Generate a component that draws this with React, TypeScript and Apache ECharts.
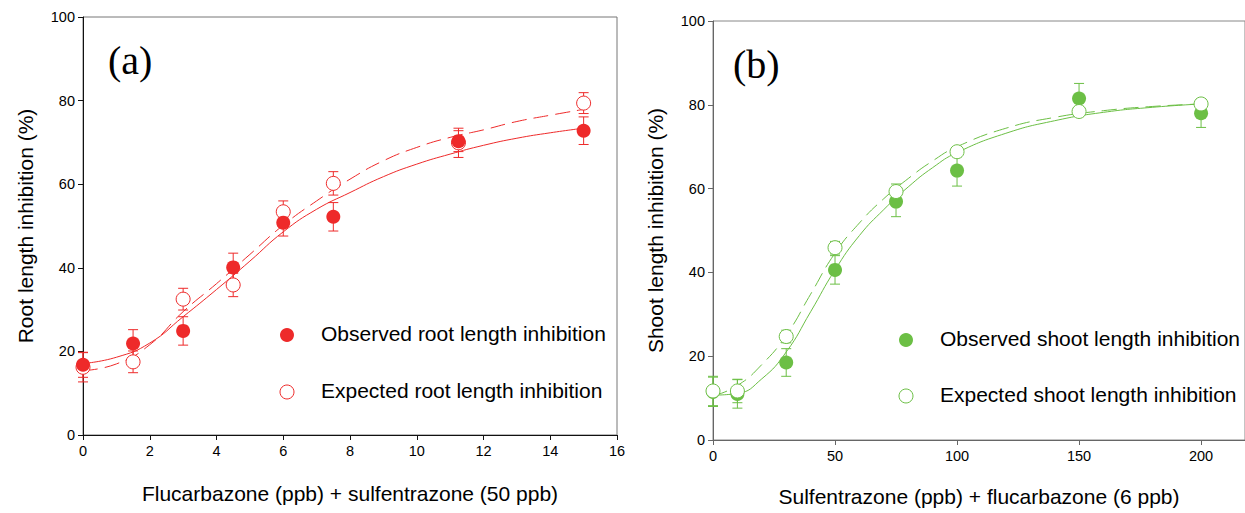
import React, { useEffect, useRef } from "react";
import * as echarts from "echarts";

// Panel (a): root length inhibition
const xA = [0, 1.5, 3, 4.5, 6, 7.5, 11.25, 15];
const obsA = [16.8, 21.9, 24.9, 40.1, 50.8, 52.2, 70.3, 72.8];
const obsAErr = [3.0, 3.3, 3.4, 3.4, 3.2, 3.4, 2.5, 3.3];
const expA = [16.2, 17.5, 32.5, 35.9, 53.4, 60.2, 69.9, 79.4];
const expAErr = [3.5, 2.6, 2.6, 2.8, 2.6, 2.8, 3.5, 2.5];
const fitXA = [0, 1, 2, 3, 4, 5, 6, 7, 8, 9, 10, 11, 12, 13, 14, 15];
const fitObsA = [17.1, 18.6, 22.0, 28.3, 34.8, 41.6, 48.6, 54.0, 58.0, 61.8, 64.8, 67.2, 69.3, 71.0, 72.3, 73.4];
const fitExpA = [15.4, 17.0, 21.6, 29.5, 36.2, 43.2, 50.2, 56.0, 61.2, 65.6, 68.8, 71.2, 73.0, 75.0, 76.5, 77.9];

// Panel (b): shoot length inhibition
const xB = [0, 10, 30, 50, 75, 100, 150, 200];
const obsB = [11.5, 11.0, 18.5, 40.6, 56.9, 64.3, 81.5, 78.0];
const obsBErr = [3.5, 3.4, 3.3, 3.4, 3.6, 3.7, 3.6, 3.4];
const expB = [11.7, 11.7, 24.7, 45.9, 59.3, 68.8, 78.4, 80.2];
const expBErr = [3.5, 2.8, 1.5, 1.5, 1.8, 1.2, 1.2, 0.5];
const fitXB = [0, 10, 20, 30, 40, 50, 60, 70, 80, 90, 100, 120, 140, 160, 180, 200];
const fitObsB = [10.7, 11.1, 14.6, 21.0, 30.6, 40.6, 48.8, 55.0, 60.4, 65.0, 68.6, 73.2, 76.2, 78.2, 79.4, 80.2];
const fitExpB = [10.5, 13.0, 18.0, 25.0, 34.8, 44.6, 51.8, 57.6, 62.4, 66.6, 70.0, 74.4, 77.0, 78.6, 79.6, 80.2];

const xTicksA = [0, 2, 4, 6, 8, 10, 12, 14, 16];
const xTicksB = [0, 50, 100, 150, 200];
const yTicks = [0, 20, 40, 60, 80, 100];

const RED = "#ee2a2a";
const GREEN = "#6cbf45";
const FONT = "Liberation Sans, Arial, sans-serif";

function zip(xs: number[], ys: number[], es?: number[]) {
  return xs.map((x, i) => (es ? [x, ys[i], es[i]] : [x, ys[i]]));
}

function errSeries(idx: number, xs: number[], ys: number[], es: number[], color: string, z: number) {
  return {
    type: "custom",
    xAxisIndex: idx,
    yAxisIndex: idx,
    z,
    encode: { x: 0, y: 1 },
    data: zip(xs, ys, es),
    renderItem: (params: any, api: any) => {
      const x = api.value(0);
      const y = api.value(1);
      const e = api.value(2);
      const top = api.coord([x, y + e]);
      const bot = api.coord([x, y - e]);
      const w = 5;
      const st = { stroke: color, lineWidth: 1 };
      return {
        type: "group",
        children: [
          { type: "line", shape: { x1: top[0], y1: top[1], x2: bot[0], y2: bot[1] }, style: st },
          { type: "line", shape: { x1: top[0] - w, y1: top[1], x2: top[0] + w, y2: top[1] }, style: st },
          { type: "line", shape: { x1: bot[0] - w, y1: bot[1], x2: bot[0] + w, y2: bot[1] }, style: st },
        ],
      };
    },
  };
}

function pointSeries(idx: number, xs: number[], ys: number[], color: string, filled: boolean, z: number) {
  return {
    type: "scatter",
    xAxisIndex: idx,
    yAxisIndex: idx,
    z,
    symbol: "circle",
    symbolSize: 14,
    data: zip(xs, ys),
    itemStyle: filled
      ? { color, borderColor: color, borderWidth: 0, opacity: 1 }
      : { color: "#ffffff", borderColor: color, borderWidth: 1, opacity: 1 },
  };
}

function curveSeries(idx: number, xs: number[], ys: number[], color: string, dashed: boolean) {
  return {
    type: "line",
    xAxisIndex: idx,
    yAxisIndex: idx,
    z: 1,
    showSymbol: false,
    smooth: 0.5,
    data: zip(xs, ys),
    lineStyle: { color, width: 1, type: dashed ? [15, 7] : "solid" },
  };
}

export default function App() {
  const ref = useRef<HTMLDivElement>(null);
  useEffect(() => {
    if (!ref.current) return;
    const chart = echarts.init(ref.current, undefined, { renderer: "svg" });
    const axisLabel = { color: "#000", fontFamily: FONT, fontSize: 14.5, margin: 8 };
    const nameStyle = { color: "#000", fontFamily: FONT, fontSize: 21 };
    const option: any = {
      animation: false,
      backgroundColor: "#ffffff",
      grid: [
        { left: 83, top: 17, width: 534, height: 418, show: true, borderColor: "#777", borderWidth: 1, backgroundColor: "transparent" },
        { left: 713, top: 21, width: 532, height: 419, show: true, borderColor: "#888", borderWidth: 1, backgroundColor: "transparent" },
      ],
      xAxis: [
        {
          gridIndex: 0, type: "value", min: 0, max: 16, interval: 2,
          name: "Flucarbazone (ppb) + sulfentrazone (50 ppb)", nameLocation: "middle", nameGap: 48, nameTextStyle: nameStyle,
          axisLine: { lineStyle: { color: "#111" } },
          axisTick: { length: 5, lineStyle: { color: "#111" }, customValues: xTicksA },
          axisLabel: { ...axisLabel, customValues: xTicksA },
          splitLine: { show: false },
        },
        {
          gridIndex: 1, type: "value", min: 0, max: 218, interval: 50,
          name: "Sulfentrazone (ppb) + flucarbazone (6 ppb)", nameLocation: "middle", nameGap: 46, nameTextStyle: nameStyle,
          axisLine: { lineStyle: { color: "#666" } },
          axisTick: { length: 5, lineStyle: { color: "#666" }, customValues: xTicksB },
          axisLabel: { ...axisLabel, customValues: xTicksB },
          splitLine: { show: false },
        },
      ],
      yAxis: [
        {
          gridIndex: 0, type: "value", min: 0, max: 100, interval: 20,
          name: "Root length inhibition (%)", nameLocation: "middle", nameGap: 47, nameTextStyle: nameStyle,
          axisLine: { show: true, lineStyle: { color: "#111" } },
          axisTick: { show: true, length: 5, lineStyle: { color: "#111" }, customValues: yTicks },
          axisLabel: { ...axisLabel, customValues: yTicks },
          splitLine: { show: false },
        },
        {
          gridIndex: 1, type: "value", min: 0, max: 100, interval: 20,
          name: "Shoot length inhibition (%)", nameLocation: "middle", nameGap: 47, nameTextStyle: nameStyle,
          axisLine: { show: true, lineStyle: { color: "#666" } },
          axisTick: { show: true, length: 5, lineStyle: { color: "#666" }, customValues: yTicks },
          axisLabel: { ...axisLabel, customValues: yTicks },
          splitLine: { show: false },
        },
      ],
      series: [
        curveSeries(0, fitXA, fitObsA, RED, false),
        curveSeries(0, fitXA, fitExpA, RED, true),
        errSeries(0, xA, expA, expAErr, RED, 2),
        errSeries(0, xA, obsA, obsAErr, RED, 2),
        pointSeries(0, xA, expA, RED, false, 3),
        pointSeries(0, xA, obsA, RED, true, 4),
        curveSeries(1, fitXB, fitObsB, GREEN, false),
        curveSeries(1, fitXB, fitExpB, GREEN, true),
        errSeries(1, xB, obsB, obsBErr, GREEN, 2),
        errSeries(1, xB, expB, expBErr, GREEN, 2),
        pointSeries(1, xB, obsB, GREEN, true, 3),
        pointSeries(1, xB, expB, GREEN, false, 4),
      ],
      graphic: [
        { type: "text", left: 108, top: 40, style: { text: "(a)", font: "40px 'Liberation Serif', 'Times New Roman', serif", fill: "#000" } },
        { type: "text", left: 733, top: 44, style: { text: "(b)", font: "40px 'Liberation Serif', 'Times New Roman', serif", fill: "#000" } },
        { type: "circle", shape: { cx: 287, cy: 335, r: 7 }, style: { fill: RED } },
        { type: "text", left: 321, top: 323, style: { text: "Observed root length inhibition", font: `21px ${FONT}`, fill: "#000" } },
        { type: "circle", shape: { cx: 287, cy: 392, r: 7 }, style: { fill: "#fff", stroke: RED, lineWidth: 1 } },
        { type: "text", left: 321, top: 380, style: { text: "Expected root length inhibition", font: `21px ${FONT}`, fill: "#000" } },
        { type: "circle", shape: { cx: 906, cy: 340, r: 7 }, style: { fill: GREEN } },
        { type: "text", left: 940, top: 328, style: { text: "Observed shoot length inhibition", font: `21px ${FONT}`, fill: "#000" } },
        { type: "circle", shape: { cx: 906, cy: 396, r: 7 }, style: { fill: "#fff", stroke: GREEN, lineWidth: 1 } },
        { type: "text", left: 940, top: 384, style: { text: "Expected shoot length inhibition", font: `21px ${FONT}`, fill: "#000" } },
      ],
    };
    chart.setOption(option);
    return () => chart.dispose();
  }, []);
  return (
    <div
      ref={ref}
      style={{ position: "fixed", left: 0, top: 0, width: 1245, height: 513, background: "#fff" }}
    />
  );
}
